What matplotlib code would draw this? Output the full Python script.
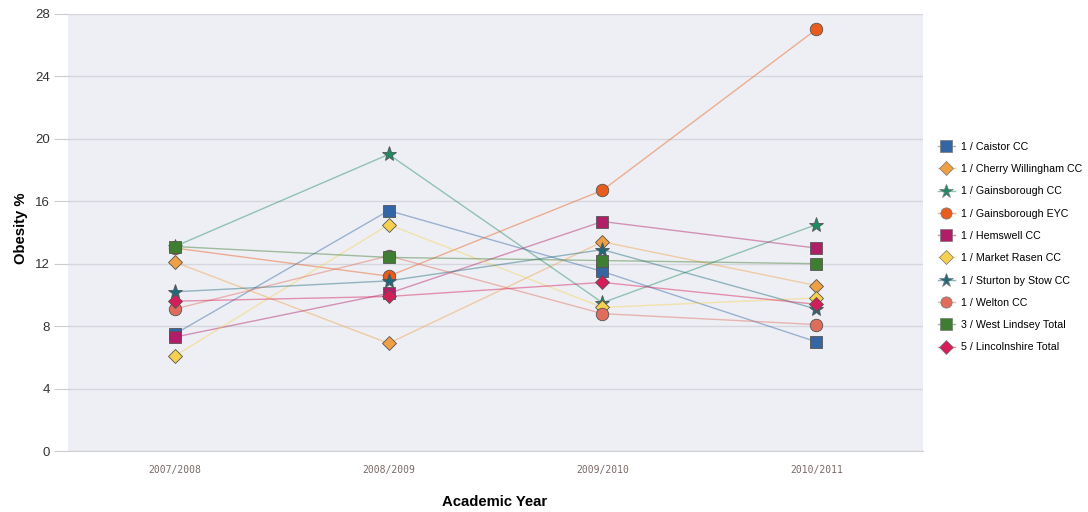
import matplotlib.pyplot as plt
import matplotlib.colors as mcolors
import numpy as np

plt.rcParams['font.family'] = ['Liberation Sans', 'DejaVu Sans']

years = ["2007/2008", "2008/2009", "2009/2010", "2010/2011"]

caistor = [7.5, 15.4, 11.5, 7.0]
cherry_willingham = [12.1, 6.9, 13.4, 10.6]
gainsborough_cc = [13.1, 19.0, 9.5, 14.5]
gainsborough_eyc = [13.0, 11.2, 16.7, 27.0]
hemswell = [7.3, 10.1, 14.7, 13.0]
market_rasen = [6.1, 14.5, 9.2, 9.8]
sturton = [10.2, 10.9, 12.9, 9.1]
welton = [9.1, 12.5, 8.8, 8.1]
west_lindsey = [13.1, 12.4, 12.2, 12.0]
lincolnshire = [9.6, 9.9, 10.8, 9.4]

series = [
    ("1 / Caistor CC", caistor, "#3466a6", "s"),
    ("1 / Cherry Willingham CC", cherry_willingham, "#f0a044", "D"),
    ("1 / Gainsborough CC", gainsborough_cc, "#1e8a62", "*"),
    ("1 / Gainsborough EYC", gainsborough_eyc, "#e85c1c", "o"),
    ("1 / Hemswell CC", hemswell, "#b01e68", "s"),
    ("1 / Market Rasen CC", market_rasen, "#f8d050", "D"),
    ("1 / Sturton by Stow CC", sturton, "#1e6a7c", "*"),
    ("1 / Welton CC", welton, "#e06c5c", "o"),
    ("3 / West Lindsey Total", west_lindsey, "#3e7e30", "s"),
    ("5 / Lincolnshire Total", lincolnshire, "#d41e5a", "D"),
]

# faded line colour, like the thin connecting lines in the original
def lighten(col, amt=0.5):
    r, g, b = mcolors.to_rgb(col)
    return (r + (1 - r) * amt, g + (1 - g) * amt, b + (1 - b) * amt)

fig = plt.figure(figsize=(10.88, 5.12), dpi=100)
ax = fig.add_axes([0.0625, 0.119, 0.786, 0.854])
ax.set_facecolor("#eeeff4")

x = np.arange(len(years)) + 0.5
handles = []
for name, vals, col, mk in series:
    ax.plot(x, vals, color=col, alpha=0.45, linewidth=1, zorder=2)
    ms = 11 if mk == "*" else (7.5 if mk == "D" else 9)
    ax.plot(x, vals, linestyle="none", marker=mk, markersize=ms,
            markerfacecolor=col, markeredgecolor="#555555",
            markeredgewidth=0.6, zorder=3)
    lh, = ax.plot([], [], color=lighten(col), linewidth=1, marker=mk,
                  markersize=ms * 0.9, markerfacecolor=col,
                  markeredgecolor="#777777", markeredgewidth=0.5, label=name)
    handles.append(lh)

ax.set_xlim(0, 4)
ax.set_ylim(0, 28)
ax.set_yticks(np.arange(0, 29, 4))
ax.set_xticks(x)
ax.set_xticklabels(years, fontsize=7, color="#7a6a66", family="DejaVu Sans Mono")
ax.tick_params(axis="x", length=0, pad=10)
ax.tick_params(axis="y", length=10, color="#cccccc", labelsize=9.5,
               labelcolor="#333333", pad=3)
ax.grid(axis="y", color="#d6d6de", linewidth=1)
ax.set_axisbelow(True)
for side in ["top", "right", "left"]:
    ax.spines[side].set_visible(False)
ax.spines["bottom"].set_color("#cfcfd6")

fig.text(0.455, 0.006, "Academic Year", fontsize=10.7, fontweight="bold",
         ha="center", va="bottom")
fig.text(0.019, 0.555, "Obesity %", fontsize=10.7, fontweight="bold",
         rotation=90, ha="center", va="center")

fig.legend(handles=handles, loc="upper left", bbox_to_anchor=(0.853, 0.742),
           frameon=False, fontsize=7.7, handlelength=1.6, labelspacing=1.15,
           handletextpad=0.6)

fig.savefig("out.png", dpi=100)
